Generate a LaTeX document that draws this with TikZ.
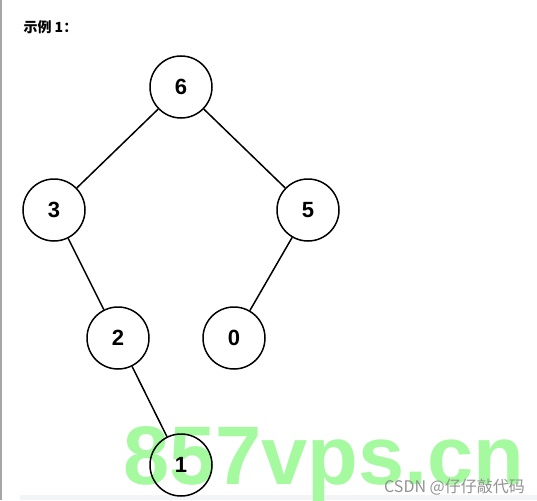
\documentclass[tikz,border=0pt]{standalone}
\usepackage{fontspec}
\setmainfont{Liberation Sans}
\newfontfamily\cjk{Noto Sans CJK SC}
\definecolor{wmgreen}{RGB}{165,250,160}
\definecolor{bandgray}{RGB}{243,244,246}
\tikzset{treenode/.style={circle,draw,line width=1.5pt,minimum size=62pt,inner sep=0pt,font=\fontsize{22}{22}\selectfont\bfseries}}
\begin{document}
\begin{tikzpicture}[x=1pt,y=-1pt]
	\useasboundingbox (0,0) rectangle (537,500);
	\fill[white] (0,0) rectangle (537,500);
	\fill[gray!70] (0,0) rectangle (2,500);
	\fill[bandgray] (20,495) rectangle (537,500);
	\node[anchor=west,font=\cjk\bfseries\fontsize{14}{14}\selectfont] (title) at (20,27) {示例 1：};
	\node[anchor=base west,inner sep=0pt,text=wmgreen,font=\fontsize{83}{83}\selectfont\bfseries] (wm) at (123,484) {857vps.cn};
	\node[anchor=base east,inner sep=0pt,text=gray!85,font=\cjk\fontsize{16}{16}\selectfont] (csdn) at (525,492) {CSDN @仔仔敲代码};
	\node[treenode] (n6) at (181,87) {6};
	\node[treenode] (n3) at (54,210) {3};
	\node[treenode] (n5) at (308,210) {5};
	\node[treenode] (n2) at (118,338) {2};
	\node[treenode] (n0) at (234,338) {0};
	\node[treenode] (n1) at (181,465) {1};
	\draw[line width=1.5pt] (n6)--(n3);
	\draw[line width=1.5pt] (n6)--(n5);
	\draw[line width=1.5pt] (n3)--(n2);
	\draw[line width=1.5pt] (n5)--(n0);
	\draw[line width=1.5pt] (n2)--(n1);
\end{tikzpicture}
\end{document}
